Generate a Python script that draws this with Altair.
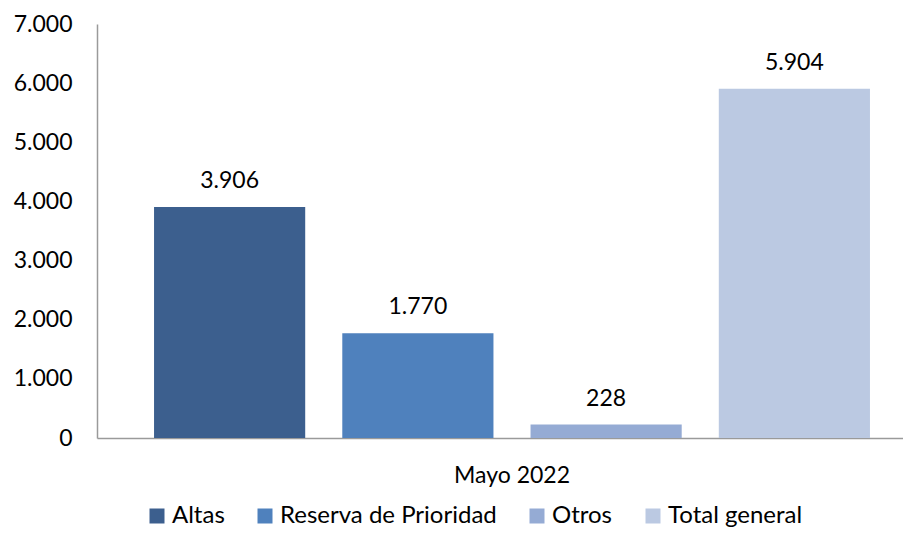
import altair as alt
import pandas as pd

period = "Mayo 2022"
series = ["Altas", "Reserva de Prioridad", "Otros", "Total general"]
values = [3906, 1770, 228, 5904]
colors = ["#3C5F8E", "#4F81BD", "#95ABD4", "#BBC9E2"]
y_ticks = [0, 1000, 2000, 3000, 4000, 5000, 6000, 7000]

df = pd.DataFrame({"periodo": [period] * len(series), "serie": series, "valor": values})

FONT = "Lato"
FS = 23

x = alt.X(
    "periodo:N",
    title=None,
    scale=alt.Scale(range=[0, 830], paddingInner=0, paddingOuter=0),
    axis=alt.Axis(
        labelAngle=0, ticks=False, tickSize=0, labelPadding=44,
        labelBaseline="alphabetic", labelFont=FONT, labelFontSize=FS,
        labelColor="#000000", domainColor="#9A9A9A", domainWidth=1.5,
    ),
)
xo = alt.XOffset("serie:N", sort=series,
                 scale=alt.Scale(paddingInner=0.197, paddingOuter=0.303))
y = alt.Y(
    "valor:Q",
    title=None,
    scale=alt.Scale(domain=[0, 7000], nice=False),
    axis=alt.Axis(
        values=y_ticks, grid=False, ticks=False, tickSize=0, labelPadding=25,
        labelExpr="replace(format(datum.value, ','), ',', '.')",
        labelFont=FONT, labelFontSize=FS, labelColor="#000000",
        domainColor="#9A9A9A", domainWidth=1.5,
    ),
)
color = alt.Color(
    "serie:N", sort=series,
    scale=alt.Scale(domain=series, range=colors),
    legend=alt.Legend(
        title=None, orient="none", legendX=48, legendY=480,
        direction="horizontal", symbolType="square", symbolSize=225,
        symbolStrokeWidth=0, labelFont=FONT, labelFontSize=24,
        labelColor="#000000", columnPadding=28, labelOffset=3,
        padding=0, labelLimit=0,
    ),
)

bars = alt.Chart(df).mark_bar().encode(x=x, xOffset=xo, y=y, color=color)

labels = (
    alt.Chart(df)
    .transform_calculate(label="replace(format(datum.valor, ','), ',', '.')")
    .mark_text(baseline="alphabetic", dy=-19, font=FONT, fontSize=FS, color="#000000")
    .encode(x=x, xOffset=xo, y=y, text="label:N")
)

chart = (
    alt.layer(bars, labels)
    .properties(
        width=806, height=414,
        autosize=alt.AutoSizeParams(type="none"),
        padding={"left": 89, "top": 16, "right": 0, "bottom": 90},
    )
    .configure_view(stroke=None)
)

chart.save("out.html", embed_options={"renderer": "svg", "actions": False})
